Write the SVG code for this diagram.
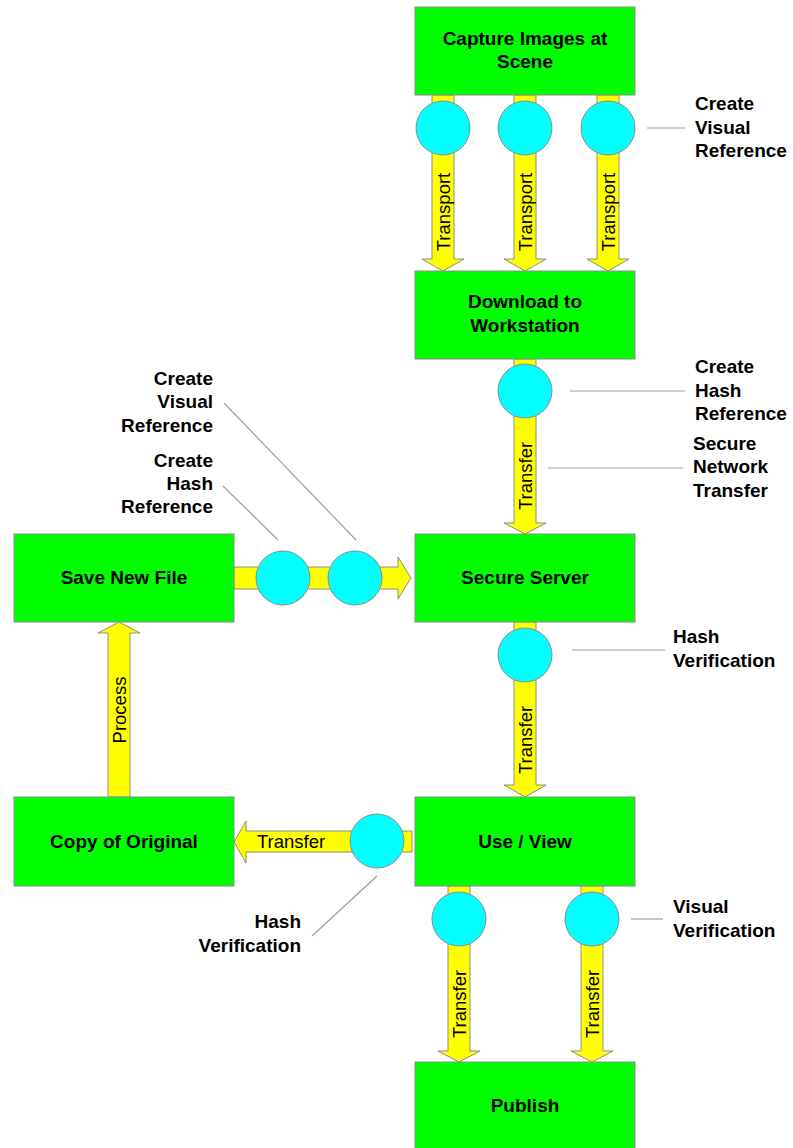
<svg xmlns="http://www.w3.org/2000/svg" width="793" height="1148" viewBox="0 0 793 1148">
<style>
.box{fill:#00ff00;stroke:#8c8c8c;stroke-width:1}
.arr{fill:#ffff00;stroke:#8c8c8c;stroke-width:1}
.dot{fill:#00ffff;stroke:#8c8c8c;stroke-width:1}
.lead{stroke:#a0a0a0;stroke-width:1.2;fill:none}
.bt{font-family:"Liberation Sans",Arial,sans-serif;font-weight:bold;font-size:19px;fill:#000;text-anchor:middle}
.lb{font-family:"Liberation Sans",Arial,sans-serif;font-weight:bold;font-size:19px;fill:#000}
.at{font-family:"Liberation Sans",Arial,sans-serif;font-size:18.5px;fill:#000;text-anchor:middle}
</style>
<rect width="793" height="1148" fill="#fff"/>
<g id="connectors">
  <!-- Capture -> Download -->
  <polygon class="arr" points="432,95 454,95 454,259 464,259 443,271 422,259 432,259"/>
  <polygon class="arr" points="514,95 536,95 536,259 546,259 525,271 504,259 514,259"/>
  <polygon class="arr" points="597,95 619,95 619,259 629,259 608,271 587,259 597,259"/>
  <!-- Download -> Secure Server -->
  <polygon class="arr" points="514,359 536,359 536,523 546,523 525,534 504,523 514,523"/>
  <!-- Secure Server -> Use/View -->
  <polygon class="arr" points="514,622 536,622 536,785 546,785 525,797 504,785 514,785"/>
  <!-- Use/View -> Publish -->
  <polygon class="arr" points="448,886 470,886 470,1051 480,1051 459,1062 438,1051 448,1051"/>
  <polygon class="arr" points="581,886 603,886 603,1051 613,1051 592,1062 571,1051 581,1051"/>
  <!-- Save New File -> Secure Server -->
  <polygon class="arr" points="234,567 398,567 398,557 411,578 398,599 398,589 234,589"/>
  <!-- Copy of Original -> Save New File (Process) -->
  <polygon class="arr" points="108,797 130,797 130,633 140,633 119,622 98,633 108,633"/>
  <!-- Use/View -> Copy of Original -->
  <polygon class="arr" points="412,831 246,831 246,821 234,842 246,863 246,852 412,852"/>
  <!-- arrow labels -->
  <text class="at" x="443" y="218.5" transform="rotate(-90 443 212)">Transport</text>
  <text class="at" x="525" y="218.5" transform="rotate(-90 525 212)">Transport</text>
  <text class="at" x="608" y="218.5" transform="rotate(-90 608 212)">Transport</text>
  <text class="at" x="525" y="482.5" transform="rotate(-90 525 476)">Transfer</text>
  <text class="at" x="525" y="746.5" transform="rotate(-90 525 740)">Transfer</text>
  <text class="at" x="459" y="1010.5" transform="rotate(-90 459 1004)">Transfer</text>
  <text class="at" x="592" y="1010.5" transform="rotate(-90 592 1004)">Transfer</text>
  <text class="at" x="119" y="716.5" transform="rotate(-90 119 710)">Process</text>
  <text class="at" x="291" y="848">Transfer</text>
  <!-- leader lines -->
  <line class="lead" x1="647" y1="128" x2="685" y2="128"/>
  <line class="lead" x1="570" y1="391" x2="685" y2="391"/>
  <line class="lead" x1="548" y1="468" x2="683" y2="468"/>
  <line class="lead" x1="223" y1="486" x2="278" y2="540"/>
  <line class="lead" x1="224" y1="403" x2="356" y2="540"/>
  <line class="lead" x1="572" y1="650" x2="665" y2="650"/>
  <line class="lead" x1="377" y1="876" x2="312" y2="936"/>
  <line class="lead" x1="631" y1="919" x2="663" y2="919"/>
</g>
<g id="checkpoints">
  <circle class="dot" cx="443" cy="128" r="27"/>
  <circle class="dot" cx="525" cy="128" r="27"/>
  <circle class="dot" cx="608" cy="128" r="27"/>
  <circle class="dot" cx="525" cy="391" r="27"/>
  <circle class="dot" cx="283" cy="578" r="27"/>
  <circle class="dot" cx="355" cy="578" r="27"/>
  <circle class="dot" cx="525" cy="655" r="27"/>
  <circle class="dot" cx="377" cy="841" r="27"/>
  <circle class="dot" cx="459" cy="919" r="27"/>
  <circle class="dot" cx="592" cy="919" r="27"/>
</g>
<g id="node-capture">
  <rect class="box" x="415" y="7" width="220" height="88"/>
  <text class="bt" x="525" y="45">Capture Images at</text>
  <text class="bt" x="525" y="68">Scene</text>
</g>
<g id="node-download">
  <rect class="box" x="415" y="271" width="220" height="88"/>
  <text class="bt" x="525" y="308">Download to</text>
  <text class="bt" x="525" y="332">Workstation</text>
</g>
<g id="node-secure-server">
  <rect class="box" x="415" y="534" width="220" height="88"/>
  <text class="bt" x="525" y="584">Secure Server</text>
</g>
<g id="node-save-new-file">
  <rect class="box" x="14" y="534" width="220" height="88"/>
  <text class="bt" x="124" y="584">Save New File</text>
</g>
<g id="node-use-view">
  <rect class="box" x="415" y="797" width="220" height="89"/>
  <text class="bt" x="525" y="848">Use / View</text>
</g>
<g id="node-copy-original">
  <rect class="box" x="14" y="797" width="220" height="89"/>
  <text class="bt" x="124" y="848">Copy of Original</text>
</g>
<g id="node-publish">
  <rect class="box" x="415" y="1062" width="220" height="90"/>
  <text class="bt" x="525" y="1112">Publish</text>
</g>
<g id="labels">
  <text class="lb" x="695" y="110">Create</text>
  <text class="lb" x="695" y="134">Visual</text>
  <text class="lb" x="695" y="157">Reference</text>
  <text class="lb" x="695" y="373">Create</text>
  <text class="lb" x="695" y="397">Hash</text>
  <text class="lb" x="695" y="420">Reference</text>
  <text class="lb" x="693" y="450">Secure</text>
  <text class="lb" x="693" y="473">Network</text>
  <text class="lb" x="693" y="497">Transfer</text>
  <text class="lb" x="213" y="385" text-anchor="end">Create</text>
  <text class="lb" x="213" y="408" text-anchor="end">Visual</text>
  <text class="lb" x="213" y="432" text-anchor="end">Reference</text>
  <text class="lb" x="213" y="467" text-anchor="end">Create</text>
  <text class="lb" x="213" y="490" text-anchor="end">Hash</text>
  <text class="lb" x="213" y="513" text-anchor="end">Reference</text>
  <text class="lb" x="673" y="643">Hash</text>
  <text class="lb" x="673" y="667">Verification</text>
  <text class="lb" x="301" y="928" text-anchor="end">Hash</text>
  <text class="lb" x="301" y="952" text-anchor="end">Verification</text>
  <text class="lb" x="673" y="913">Visual</text>
  <text class="lb" x="673" y="937">Verification</text>
</g>
</svg>
